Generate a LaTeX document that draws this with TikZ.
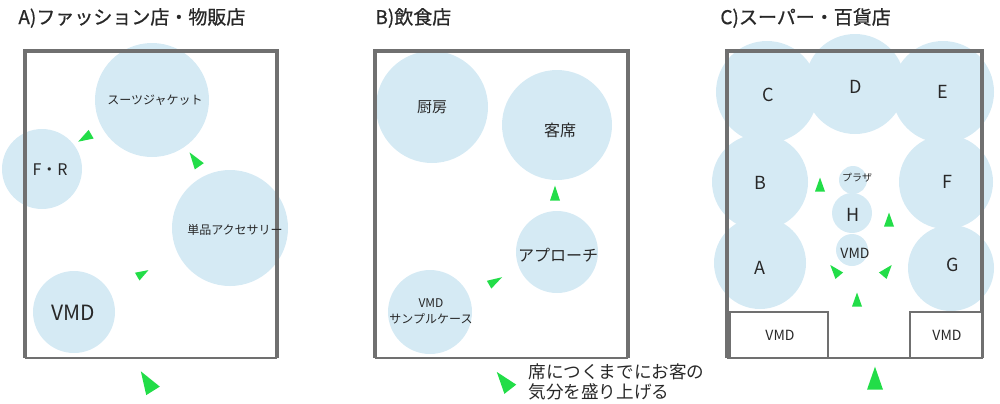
\documentclass[tikz,border=0pt]{standalone}
\usepackage{fontspec}
\setmainfont{Noto Sans CJK JP}
\newfontfamily\heavyjp{Noto Sans CJK JP}[FakeBold=0.8]
\usetikzlibrary{shapes.geometric}
\definecolor{zonebg}{RGB}{213,234,244}
\definecolor{wallgray}{RGB}{112,112,112}
\definecolor{flowgreen}{RGB}{34,221,72}
\definecolor{inktext}{RGB}{40,40,40}
\begin{document}
\begin{tikzpicture}[x=0.5pt,y=-0.5pt,
  zone/.style={circle, fill=zonebg, draw=none, inner sep=0pt, minimum size=#1 pt},
  lbl/.style={inner sep=0pt, text=inktext, align=center, font=\fontsize{#1}{#1}\selectfont},
  wall/.style={draw=wallgray, line width=2.2pt},
  floorline/.style={draw=wallgray, line width=1pt},
  vmdbox/.style={draw=wallgray, line width=0.6pt, fill=white},
  cone/.style={isosceles triangle, isosceles triangle stretches, fill=flowgreen, draw=none, inner sep=0pt},
  title/.style={anchor=west, inner sep=0pt, text=inktext, font=\heavyjp\fontsize{9.5}{11}\selectfont}
]
\useasboundingbox (0,0) rectangle (1000,403);

% ---------- titles
\node[title] (tA) at (18,18) {A)ファッション店・物販店};
\node[title] (tB) at (375,18) {B)飲食店};
\node[title] (tC) at (720,18) {C)スーパー・百貨店};

% ---------- circles A
\node[zone=57] (suit) at (152,100) {};
\node[zone=40] (fr) at (42,169) {};
\node[zone=58] (acc) at (230,228) {};
\node[zone=41] (vmdA) at (74,312) {};

% ---------- circles B
\node[zone=56] (kitchen) at (432,107) {};
\node[zone=55] (seat) at (557,125) {};
\node[zone=41] (approach) at (557,252) {};
\node[zone=42] (sample) at (430,312) {};

% ---------- circles C
\node[zone=51] (zC) at (767,92) {};
\node[zone=50] (zD) at (855,84) {};
\node[zone=51] (zE) at (943,92) {};
\node[zone=48] (zB) at (760,182) {};
\node[zone=47] (zF) at (946,182) {};
\node[zone=46] (zA) at (760,263) {};
\node[zone=43] (zG) at (951,268) {};
\node[zone=14] (zP) at (853,180) {};
\node[zone=20] (zH) at (852,213) {};
\node[zone=16] (zV) at (852,250) {};

% ---------- walls
\draw[wall] (25,358) -- (25,51) -- (277,51) -- (277,358);
\draw[floorline] (25,358) -- (277,358);
\draw[wall] (375,358) -- (375,51) -- (628,51) -- (628,358);
\draw[floorline] (375,358) -- (628,358);
\draw[wall] (727,358) -- (727,51) -- (982,51) -- (982,358);
\draw[floorline] (727,358) -- (982,358);

% ---------- VMD boxes in C
\node[vmdbox, minimum width=49pt, minimum height=23pt] (boxL) at (779,335) {};
\node[vmdbox, minimum width=36pt, minimum height=23pt] (boxR) at (946,335) {};

% ---------- labels A
\node[lbl=6] (lsuit) at (155,100) {スーツジャケット};
\node[lbl=8] (lfr) at (50,170) {F・R};
\node[lbl=6] (lacc) at (235,230) {単品アクセサリー};
\node[lbl=10.5] (lvmdA) at (73,313) {VMD};

% ---------- labels B
\node[lbl=7.5] (lkitchen) at (432,107) {厨房};
\node[lbl=8] (lseat) at (560,130) {客席};
\node[lbl=8] (lapproach) at (558,255) {アプローチ};
\node[lbl=6, align=center] (lsample) at (431,311) {VMD\\[2pt]サンプルケース};

% ---------- labels C
\node[lbl=9] (lC) at (768,95) {C};
\node[lbl=9] (lD) at (856,87) {D};
\node[lbl=9] (lE) at (943,92) {E};
\node[lbl=9] (lB) at (760,183) {B};
\node[lbl=9] (lF) at (947,182) {F};
\node[lbl=9] (lA) at (760,268) {A};
\node[lbl=9] (lG) at (953,265) {G};
\node[lbl=5] (lP) at (857,178) {プラザ};
\node[lbl=9] (lH) at (853,215) {H};
\node[lbl=7] (lV) at (855,253) {VMD};
\node[lbl=7] (lboxL) at (780,335) {VMD};
\node[lbl=7] (lboxR) at (947,335) {VMD};

% ---------- legend
\node[anchor=west, inner sep=0pt, text=inktext, align=left, font=\fontsize{8.8}{10}\selectfont] (legend) at (528,382) {席につくまでにお客の\\気分を盛り上げる};

% ---------- flow cones A
\node[cone, minimum height=7.5pt, minimum width=5pt, rotate=210] (a1) at (88,136) {};
\node[cone, minimum height=8.5pt, minimum width=5.5pt, rotate=125] (a2) at (197,163) {};
\node[cone, minimum height=6.5pt, minimum width=4.5pt, rotate=30] (a3) at (140,275) {};
\node[cone, minimum height=11.5pt, minimum width=8pt, rotate=122] (a4) at (150,386) {};

% ---------- flow cones B
\node[cone, minimum height=7.5pt, minimum width=5pt, rotate=90] (b1) at (555,197) {};
\node[cone, minimum height=7.5pt, minimum width=4.5pt, rotate=30] (b2) at (492,283) {};
\node[cone, minimum height=11pt, minimum width=7.5pt, rotate=128] (b3) at (507,385) {};

% ---------- flow cones C
\node[cone, minimum height=7pt, minimum width=5pt, rotate=90] (c1) at (820,188) {};
\node[cone, minimum height=7pt, minimum width=5pt, rotate=90] (c2) at (889,223) {};
\node[cone, minimum height=7pt, minimum width=5pt, rotate=130] (c3) at (837,273) {};
\node[cone, minimum height=7pt, minimum width=5pt, rotate=50] (c4) at (885,273) {};
\node[cone, minimum height=7pt, minimum width=5pt, rotate=90] (c5) at (857,303) {};
\node[cone, minimum height=11.5pt, minimum width=8pt, rotate=90] (c6) at (875,384) {};
\end{tikzpicture}
\end{document}
